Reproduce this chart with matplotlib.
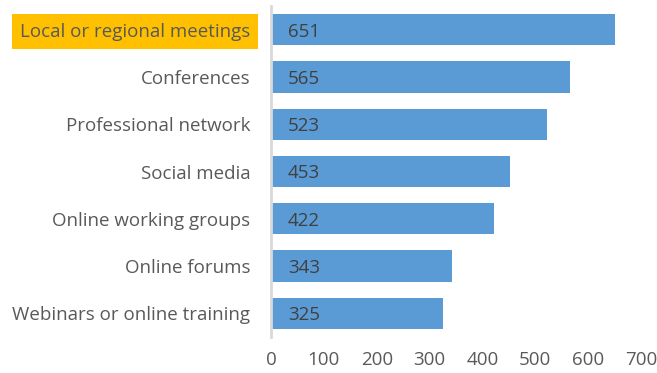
import matplotlib.pyplot as plt

# Canales usados para enterarse de novedades
canales = ['Local or regional meetings', 'Conferences', 'Professional network',
           'Social media', 'Online working groups', 'Online forums',
           'Webinars or online training']
respuestas = [651, 565, 523, 453, 422, 343, 325]
ticks_x = [0, 100, 200, 300, 400, 500, 600, 700]

plt.rcParams['font.family'] = ['Open Sans', 'DejaVu Sans']

fig = plt.figure(figsize=(6.57, 3.73), dpi=100)
ax = fig.add_axes([271 / 657, 1 - 337 / 373, 370 / 657, 331 / 373])

y = list(range(len(canales)))
ax.barh(y, respuestas, height=0.66, color='#5B9BD5')
for yi, v in zip(y, respuestas):
    ax.text(32, yi + 0.04, str(v), va='center', ha='left', fontsize=13.5, color='#404040')

ax.set_xlim(0, 700)
ax.set_ylim(len(canales) - 0.5, -0.5)
ax.set_xticks(ticks_x)
ax.set_yticks(y)
ax.set_yticklabels(canales)
ax.tick_params(axis='both', length=0, labelsize=13.5, labelcolor='#595959')
ax.tick_params(axis='y', pad=15)
ax.tick_params(axis='x', pad=10)

for s in ['top', 'right', 'bottom']:
    ax.spines[s].set_visible(False)
ax.spines['left'].set_color('#D9D9D9')
ax.spines['left'].set_linewidth(2)

# resaltar la primera categoría
ax.get_yticklabels()[0].set_bbox(dict(facecolor='#FFC000', edgecolor='none', pad=6))

fig.savefig('out.png', dpi=100)
